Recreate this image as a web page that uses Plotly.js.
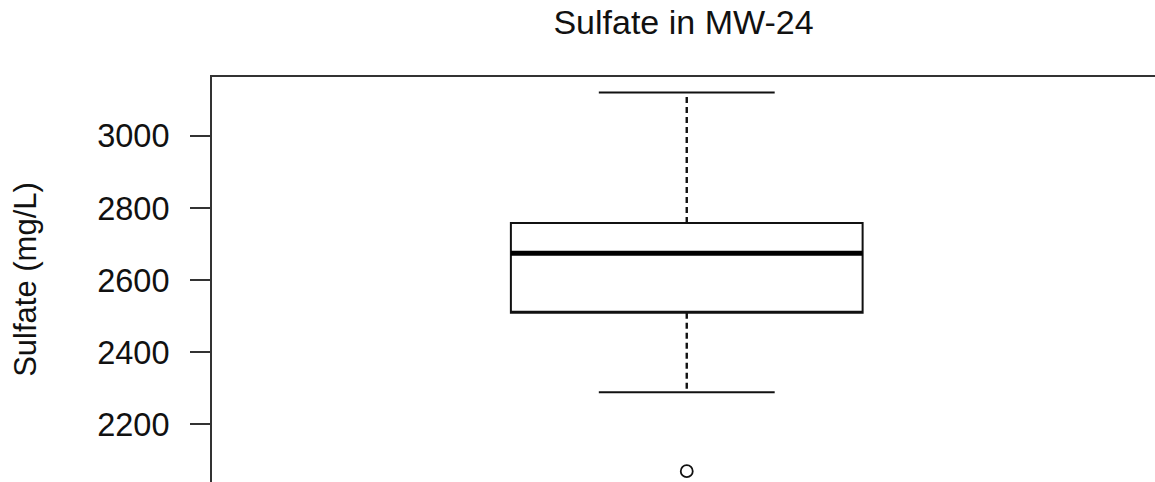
<!DOCTYPE html>
<html>
<head>
<meta charset="utf-8">
<script src="https://cdn.plot.ly/plotly-3.0.1.min.js"></script>
<style>
html,body{margin:0;padding:0;overflow:hidden;background:#fff;}
#chart{width:1155px;height:482px;}
</style>
</head>
<body>
<div id="chart"></div>
<script>
// Data (mg/L)
const groupX = [1];
const q1 = [2510];
const median = [2675];
const q3 = [2759];
const lowerWhisker = [2289];
const upperWhisker = [3121];
const outliers = [2070];
const yTicks = [2200, 2400, 2600, 2800, 3000];

const boxWidth = 0.8;
const capHalf = boxWidth / 4;
const cx = groupX[0];
const FONT = '"Liberation Sans", Arial, sans-serif';
const ink = '#111';

const traces = [
  {
    type: 'box', x: groupX, q1: q1, median: q1, q3: q3,
    lowerfence: q1, upperfence: q3,
    width: boxWidth, fillcolor: 'rgba(0,0,0,0)',
    line: {color: ink, width: 2}, boxpoints: false, hoverinfo: 'skip', showlegend: false
  },
  { // thick median
    type: 'scatter', mode: 'lines',
    x: [cx - boxWidth/2, cx + boxWidth/2], y: [median[0], median[0]],
    line: {color: '#000', width: 5}, hoverinfo: 'skip', showlegend: false
  },
  { // upper whisker
    type: 'scatter', mode: 'lines', x: [cx, cx], y: [q3[0], upperWhisker[0]],
    line: {color: ink, width: 2.4, dash: '6px,4px'}, hoverinfo: 'skip', showlegend: false
  },
  { // lower whisker
    type: 'scatter', mode: 'lines', x: [cx, cx], y: [q1[0], lowerWhisker[0]],
    line: {color: ink, width: 2.4, dash: '6px,4px'}, hoverinfo: 'skip', showlegend: false
  },
  { // caps
    type: 'scatter', mode: 'lines',
    x: [cx - capHalf, cx + capHalf, null, cx - capHalf, cx + capHalf],
    y: [upperWhisker[0], upperWhisker[0], null, lowerWhisker[0], lowerWhisker[0]],
    line: {color: ink, width: 2}, hoverinfo: 'skip', showlegend: false
  },
  { // outlier
    type: 'scatter', mode: 'markers', x: outliers.map(() => cx), y: outliers,
    marker: {symbol: 'circle-open', size: 12, color: ink, line: {width: 1.8, color: ink}},
    hoverinfo: 'skip', showlegend: false
  }
];

const layout = {
  width: 1155, height: 482,
  margin: {l: 212, r: 0, t: 77, b: 0},
  paper_bgcolor: '#fff', plot_bgcolor: '#fff',
  font: {family: FONT, color: ink},
  title: {
    text: 'Sulfate in MW-24',
    font: {family: FONT, size: 34, color: ink},
    xref: 'paper', x: 0.5, xanchor: 'center',
    yref: 'container', y: 0.955, yanchor: 'middle'
  },
  xaxis: {
    range: [-0.0798, 2.065], side: 'top',
    showline: true, linecolor: '#333', linewidth: 2,
    showgrid: false, zeroline: false, showticklabels: false, ticks: ''
  },
  yaxis: {
    range: [2040, 3164],
    tickvals: yTicks, ticktext: yTicks.map(String),
    ticks: 'outside', ticklen: 20, tickwidth: 2, tickcolor: '#333',
    ticklabelstandoff: 14,
    tickfont: {family: FONT, size: 32.5, color: ink},
    showline: true, linecolor: '#333', linewidth: 2,
    showgrid: false, zeroline: false,
    automargin: false,
    title: {text: 'Sulfate (mg/L)', font: {family: FONT, size: 31, color: ink}, standoff: 51}
  }
};

Plotly.newPlot('chart', traces, layout, {staticPlot: true, displayModeBar: false});
</script>
</body>
</html>
